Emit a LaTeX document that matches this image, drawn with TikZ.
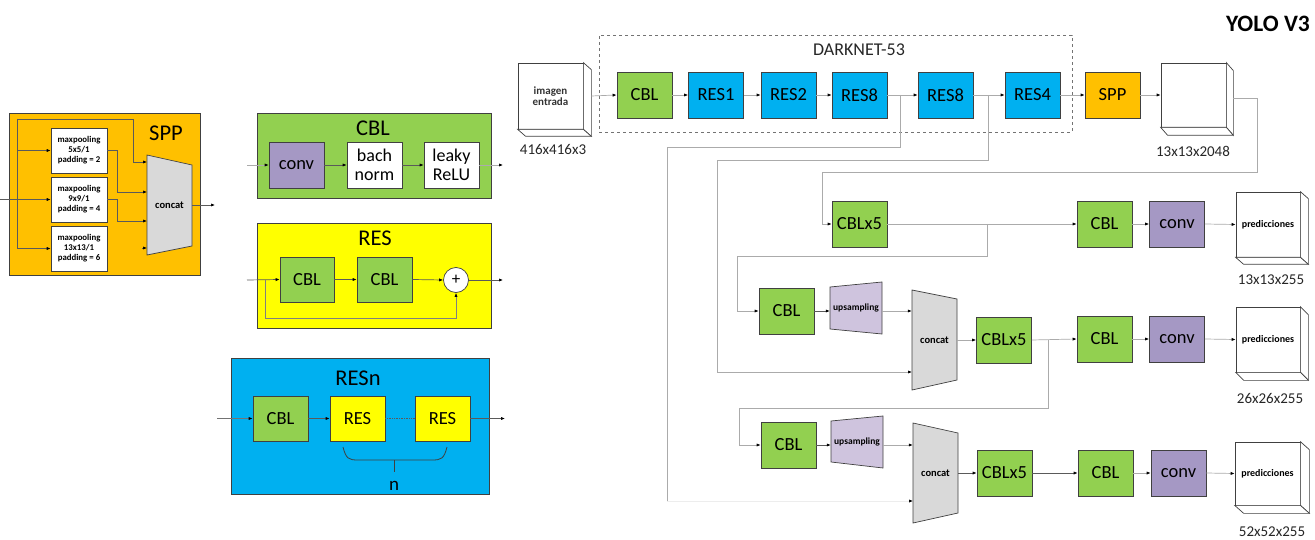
\documentclass[tikz,border=0pt]{standalone}
\usepackage{fontspec}
\setmainfont{Carlito}
\usetikzlibrary{arrows.meta,calc}
\definecolor{orng}{HTML}{FFC000}
\definecolor{grn}{HTML}{92D050}
\definecolor{blu}{HTML}{00B0F0}
\definecolor{ylw}{HTML}{FFFF00}
\definecolor{prp}{HTML}{A598C4}
\definecolor{lprp}{HTML}{CFC4DE}
\definecolor{cgray}{HTML}{D9D9D9}
\definecolor{edge}{HTML}{404040}
\definecolor{wirec}{HTML}{ABABAB}
\definecolor{darkwire}{HTML}{5A5A5A}
\newcommand{\fs}[1]{\fontsize{#1pt}{#1pt}\selectfont}
\newcommand{\cubeside}[3]{%
  \draw[edge, fill=white, line width=0.7pt] (#1.north east) -- ++(#2,#3) -- ($(#1.south east)+(#2,#3)$) -- (#1.south east) -- cycle;
  \draw[edge, fill=white, line width=0.7pt] (#1.south west) -- ++(#2,#3) -- ($(#1.south east)+(#2,#3)$) -- (#1.south east) -- cycle;}
\tikzset{
  blk/.style={draw=edge, line width=0.7pt, minimum width=55pt, minimum height=46pt, inner sep=0pt, font=\fs{18.5}},
  panel/.style={draw=edge, line width=0.8pt, inner sep=0pt},
  mp/.style={draw=edge, fill=white, line width=0.6pt, minimum width=56pt, minimum height=45pt, inner sep=0pt, align=center, font=\bfseries\fs{8.8}\linespread{1.15}\selectfont},
  cubef/.style={draw=edge, fill=white, line width=0.7pt, inner sep=0pt, align=center},
  arr/.style={-{Latex[length=4pt,width=3.2pt,color=black]}},
  wire/.style={draw=wirec, line width=0.7pt},
  dwire/.style={draw=darkwire, line width=0.7pt},
  trap/.style={draw=edge, line width=0.7pt},
  lbl/.style={font=\fs{15}, text=black!85},
  ttl/.style={font=\fs{22.5}},
}
\begin{document}
\begin{tikzpicture}[x=1pt,y=-1pt]
\useasboundingbox (0,0) rectangle (1315,540);

% ---------- title
\node[font=\bfseries\fs{23.5}] (title) at (1268,24) {YOLO V3};

% ---------- SPP panel
\node[panel, fill=orng, minimum width=191pt, minimum height=162pt] (sppbox) at (104.5,194) {};
\node[ttl] (spptitle) at (166,133) {SPP};
\node[mp] (mp1) at (79,150.5) {maxpooling\\5x5/1\\padding = 2};
\node[mp] (mp2) at (79,199.5) {maxpooling\\9x9/1\\padding = 4};
\node[mp] (mp3) at (79,248.5) {maxpooling\\13x13/1\\padding = 6};
\draw[trap, fill=cgray] (147,155) -- (192,165) -- (192,246) -- (147,255) -- cycle;
\node[minimum width=45pt, minimum height=100pt, inner sep=0pt, font=\bfseries\fs{10.5}] (sppcat) at (169.5,205) {concat};
\coordinate (sppin) at (0,199.5);
\coordinate (sppv) at (17,119);
\draw[dwire, arr] (sppin) -- (mp2.west);
\draw[dwire] (sppv) -- (17,248.5);
\draw[dwire, arr] (sppv) -| (133,162) -- (147,162);
\draw[dwire, arr] (17,150.5) -- (mp1.west);
\draw[dwire, arr] (17,248.5) -- (mp3.west);
\draw[dwire, arr] (mp1.east) -- (117,150.5) |- (147,192);
\draw[dwire, arr] (mp2.east) -- (117,199.5) |- (147,221);
\draw[dwire, arr] (142,248) -- (147,248);
\coordinate (sppout) at (215,205);
\draw[dwire, arr] (sppcat.east) -- (sppout);

% ---------- CBL panel
\node[panel, fill=grn, minimum width=234pt, minimum height=85pt] (cblbox) at (374,155.5) {};
\node[ttl] (cbltitle) at (373,128) {CBL};
\node[blk, fill=prp] (pconv) at (296.5,165) {conv};
\node[blk, fill=white, align=center, font=\fs{18}\linespread{1.05}\selectfont] (pbn) at (374.5,165) {bach\\norm};
\node[blk, fill=white, align=center, font=\fs{18}\linespread{1.05}\selectfont] (plr) at (451.5,165) {leaky\\ReLU};
\coordinate (cblin) at (247,165);
\coordinate (cblout) at (503,165);
\draw[wire, arr] (cblin) -- (pconv.west);
\draw[dwire, arr] (pconv.east) -- (pbn.west);
\draw[dwire, arr] (pbn.east) -- (plr.west);
\draw[wire, arr] (plr.east) -- (cblout);

% ---------- RES panel
\node[panel, fill=ylw, minimum width=234pt, minimum height=105pt] (resbox) at (374,275.5) {};
\node[ttl] (restitle) at (375,238) {RES};
\node[blk, fill=grn, minimum height=45pt, minimum width=54pt] (rc1) at (307,279.5) {CBL};
\node[blk, fill=grn, minimum height=45pt] (rc2) at (384.5,279.5) {CBL};
\node[circle, draw=edge, fill=white, line width=0.7pt, minimum size=25pt, inner sep=0pt, font=\fs{17}] (plus) at (456,280) {+};
\coordinate (resin) at (247,280);
\coordinate (resout) at (503,280);
\coordinate (skip) at (265,280);
\draw[dwire, arr] (resin) -- (rc1.west);
\draw[dwire, arr] (rc1.east) -- (rc2.west);
\draw[dwire, arr] (rc2.east) -- (plus.west);
\draw[dwire, arr] (plus.east) -- (resout);
\draw[wire, draw=black!50, arr] (skip) -- (265,318) -| (plus.south);

% ---------- RESn panel
\node[panel, fill=blu, minimum width=258pt, minimum height=136pt] (resnbox) at (360,426) {};
\node[ttl] (resntitle) at (358,378) {RESn};
\node[blk, fill=grn, minimum height=45pt] (rnc) at (280.5,418.5) {CBL};
\node[blk, fill=ylw, minimum height=45pt] (rra) at (357.5,418.5) {RES};
\node[blk, fill=ylw, minimum height=45pt] (rrb) at (442.5,418.5) {RES};
\coordinate (resnin) at (217,418.5);
\coordinate (resnout) at (505,418.5);
\draw[wire, draw=black!55, arr] (resnin) -- (rnc.west);
\draw[dwire, arr] (rnc.east) -- (rra.west);
\draw[dwire, densely dotted] (rra.east) -- (rrb.west);
\draw[dwire, arr] (rrb.east) -- (resnout);
\draw[edge, line width=0.8pt] (343,447) .. controls (346,459) and (349,460) .. (358,460) -- (432,460) .. controls (441,460) and (444,459) .. (447,447);
\coordinate (bracemid) at (394,460);
\node[font=\fs{19}] (nlabel) at (394,486) {n};
\draw[edge, line width=0.8pt] (bracemid) -- (394,472);

% ---------- DARKNET-53
\node[draw=black!55, dashed, line width=0.8pt, minimum width=473pt, minimum height=97pt, inner sep=0pt] (dk53) at (835.5,83.5) {};
\node[font=\fs{18}, text=black!85] (dktitle) at (859,50) {DARKNET-53};

\node[cubef, minimum width=65pt, minimum height=66pt, font=\bfseries\fs{11}, text=black!80] (img) at (550.5,96) {imagen\\entrada};
\cubeside{img}{8}{7}
\node[lbl] (imglbl) at (553,149) {416x416x3};

\node[blk, fill=grn] (dcbl) at (644.5,95) {CBL};
\node[blk, fill=blu] (res1) at (716,95) {RES1};
\node[blk, fill=blu] (res2) at (788.5,95) {RES2};
\node[blk, fill=blu] (res8a) at (859.5,95) {RES8};
\node[blk, fill=blu] (res8b) at (945.5,95) {RES8};
\node[blk, fill=blu] (res4) at (1032.5,95) {RES4};
\node[blk, fill=orng] (spp) at (1112.5,95) {SPP};
\node[cubef, minimum width=65pt, minimum height=64pt] (big) at (1193.5,95) {};
\cubeside{big}{7}{8}
\node[lbl] (biglbl) at (1193,151) {13x13x2048};

\draw[wire, arr] (img.east) ++(8,0) -- (dcbl.west);
\draw[wire, arr] (dcbl.east) -- (res1.west);
\draw[wire, arr] (res1.east) -- (res2.west);
\draw[wire, arr] (res2.east) -- (res8a.west);
\draw[wire, arr] (res8a.east) -- (res8b.west);
\draw[wire, arr] (res8b.east) -- (res4.west);
\draw[wire, arr] (res4.east) -- (spp.west);
\draw[wire, arr] (spp.east) -- (big.west);

% ---------- scale 1 (13x13)
\node[blk, fill=grn] (cblx5a) at (859.5,224) {CBLx5};
\node[blk, fill=grn] (tcbl) at (1104.5,224) {CBL};
\node[blk, fill=prp] (tconv) at (1177,224) {conv};
\node[cubef, minimum width=64pt, minimum height=65pt, font=\bfseries\fs{10}] (tpred) at (1268,224.5) {predicciones};
\cubeside{tpred}{8}{7}
\node[lbl] (tlbl) at (1271,280) {13x13x255};

% ---------- scale 2 (26x26)
\node[blk, fill=grn] (cbl2) at (786.5,311) {CBL};
\draw[trap, fill=lprp] (830,287) -- (882,282) -- (882,334) -- (830,329) -- cycle;
\node[minimum width=52pt, minimum height=52pt, inner sep=0pt, font=\bfseries\fs{9.5}] (up1) at (856,308) {upsampling};
\draw[trap, fill=cgray] (912,290) -- (957,299) -- (957,380) -- (912,390) -- cycle;
\node[minimum width=45pt, minimum height=100pt, inner sep=0pt, font=\bfseries\fs{10.5}] (c2) at (934.5,340) {concat};
\node[blk, fill=grn] (cblx5b) at (1004,340) {CBLx5};
\node[blk, fill=grn] (mcbl) at (1104.5,339) {CBL};
\node[blk, fill=prp] (mconv) at (1177,339) {conv};
\node[cubef, minimum width=64pt, minimum height=65pt, font=\bfseries\fs{10}] (mpred) at (1268,339.5) {predicciones};
\cubeside{mpred}{8}{8}
\node[lbl] (mlbl) at (1270,398) {26x26x255};

% ---------- scale 3 (52x52)
\node[blk, fill=grn] (cbl4) at (788.5,445) {CBL};
\draw[trap, fill=lprp] (831,421) -- (883,416) -- (883,468) -- (831,462) -- cycle;
\node[minimum width=52pt, minimum height=52pt, inner sep=0pt, font=\bfseries\fs{9.5}] (up2) at (857,442) {upsampling};
\draw[trap, fill=cgray] (913,423) -- (958,433) -- (958,513) -- (913,523) -- cycle;
\node[minimum width=45pt, minimum height=100pt, inner sep=0pt, font=\bfseries\fs{10.5}] (c3) at (935.5,473) {concat};
\node[blk, fill=grn] (cblx5c) at (1004.5,473) {CBLx5};
\node[blk, fill=grn] (bcbl) at (1105.5,473) {CBL};
\node[blk, fill=prp] (bconv) at (1178.5,473) {conv};
\node[cubef, minimum width=65pt, minimum height=63pt, font=\bfseries\fs{10}] (bpred) at (1267.5,473.5) {predicciones};
\cubeside{bpred}{9}{8}
\node[lbl] (blbl) at (1272,532) {52x52x255};

% ---------- routing wires
\coordinate (br1) at (900,95);
\coordinate (br2) at (988,95);
\coordinate (br3) at (1233,98);
\coordinate (br4) at (987,224);
\coordinate (br5) at (1048,340);
\draw[wire] (br1) -- (900,147) -- (667,147) -- (667,501);
\draw[wire, draw=black!7, arr] (667,501) -- (913,501);
\draw[wire, arr] (br2) |- (717,160) |- (912,372);
\draw[wire, arr] (br3) -- (1257,98) |- (822,172) |- (cblx5a.west);
\draw[wire, arr] (cblx5a.east) -- (tcbl.west);
\draw[wire, arr] (tcbl.east) -- (tconv.west);
\draw[wire, arr] (tconv.east) -- (tpred.west);
\draw[wire, arr] (br4) |- (737,256) |- (cbl2.west);
\draw[dwire, arr] (cbl2.east) -- (up1.west |- cbl2.east);
\draw[wire, arr] (up1.east |- cbl2.east) -- (c2.west |- cbl2.east);
\draw[wire, arr] (c2.east) -- (cblx5b.west);
\draw[wire, arr] (cblx5b.east) -- (mcbl.west);
\draw[wire, arr] (mcbl.east) -- (mconv.west);
\draw[wire, arr] (mconv.east) -- (mpred.west);
\draw[wire, arr] (br5) |- (739,408) |- (cbl4.west);
\draw[dwire, arr] (cbl4.east) -- (up2.west |- cbl4.east);
\draw[wire, arr] (up2.east |- cbl4.east) -- (c3.west |- cbl4.east);
\draw[dwire, arr] (c3.east) -- (cblx5c.west);
\draw[dwire, arr] (cblx5c.east) -- (bcbl.west);
\draw[wire, arr] (bcbl.east) -- (bconv.west);
\draw[wire, arr] (bconv.east) -- (bpred.west);
\end{tikzpicture}
\end{document}
